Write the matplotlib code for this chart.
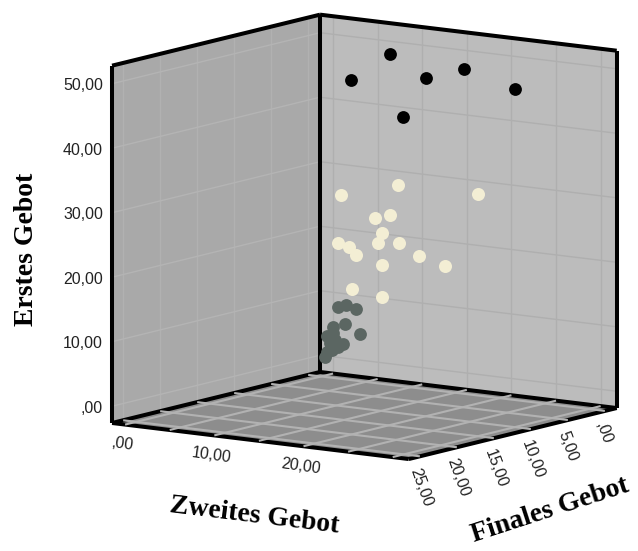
import numpy as np
import matplotlib
matplotlib.use("Agg")
import matplotlib.pyplot as plt
from matplotlib.patches import Polygon

# Data: (Zweites Gebot, Finales Gebot, Erstes Gebot)
high_zweites = [15.3, 10.3, 20.3, 20.4, 30.3, 20.7]
high_finales = [14.4, 3.1, 10.3, 5.3, 10.4, 13.85]
high_erstes = [50.0, 50.0, 50.0, 50.0, 50.0, 45.0]

mid_zweites = [4.71, 11.10, 21.73, 9.35, 11.86, 10.96, 10.52, 12.87, 3.54, 5.61, 6.39, 15.11, 18.03, 10.13, 5.94, 10.13]
mid_finales = [3, 3, 5, 4, 5, 5, 5, 5, 2, 3, 3, 5, 5, 4, 3, 4]
mid_erstes = [27.17, 29.8, 30.75, 24.67, 25.84, 22.89, 21.27, 21.66, 19.25, 19.26, 18.15, 20.03, 18.96, 17.51, 12.80, 12.55]

low_zweites = [2.71, 3.61, 4.73, 3.50, 5.18, 2.15, 2.15, 1.48, 1.82, 3.27, 2.71, 2.04, 1.26, 1.48, 2.38]
low_finales = [1] * 15
low_erstes = [8.91, 9.37, 8.94, 6.40, 5.13, 5.71, 4.78, 4.20, 3.17, 3.26, 2.70, 2.13, 0.91, 1.72, 3.73]

zweites_ticks = [0, 5, 10, 15, 20, 25, 30]
finales_ticks = [0, 5, 10, 15, 20, 25]
erstes_ticks = [0, 10, 20, 30, 40, 50]
zweites_labels = {0: ",00", 10: "10,00", 20: "20,00"}
finales_labels = [",00", "5,00", "10,00", "15,00", "20,00", "25,00"]
erstes_labels = [",00", "10,00", "20,00", "30,00", "40,00", "50,00"]

XR = (-1.46, 31.8)
YR = (-1.6, 26.5)
ZR = (-2.6, 52.8)


def proj(x, y, z):
    """Oblique projection of the 3D box to image pixels."""
    x, y, z = np.asarray(x, float), np.asarray(y, float), np.asarray(z, float)
    return (321.2 + 8.92 * x - 7.4 * y,
            359.7 + 1.084 * x + 1.815 * y - 6.45 * z)


fig = plt.figure(figsize=(6.38, 5.51), dpi=100, facecolor="white")
ax = fig.add_axes([0, 0, 1, 1])
ax.set_xlim(0, 638)
ax.set_ylim(551, 0)
ax.axis("off")


def poly(corners, color, z=1):
    pts = [tuple(float(c) for c in proj(*p)) for p in corners]
    ax.add_patch(Polygon(pts, closed=True, fc=color, ec="none", zorder=z))


def seg(a, b, color, lw, z):
    ua, va = proj(*a)
    ub, vb = proj(*b)
    ax.plot([ua, ub], [va, vb], color=color, lw=lw, zorder=z,
            solid_capstyle="butt")


x0, x1 = XR
y0, y1 = YR
z0, z1 = ZR

poly([(x0, y0, z0), (x0, y1, z0), (x0, y1, z1), (x0, y0, z1)], "#a9a9a9")
poly([(x0, y0, z0), (x1, y0, z0), (x1, y0, z1), (x0, y0, z1)], "#bcbcbc")
poly([(x0, y0, z0), (x1, y0, z0), (x1, y1, z0), (x0, y1, z0)], "#8d8d8d")

for t in zweites_ticks:
    seg((t, y0, z0), (t, y0, z1), "#afafaf", 1.0, 2)
    seg((t, y0, z0), (t, y1, z0), "#b2b2b2", 1.5, 4)
for t in finales_ticks:
    seg((x0, t, z0), (x0, t, z1), "#b1b1b1", 1.0, 2)
    seg((x0, t, z0), (x1, t, z0), "#b2b2b2", 1.5, 4)
for t in erstes_ticks:
    seg((x0, y0, t), (x1, y0, t), "#afafaf", 1.0, 2)
    seg((x0, y0, t), (x0, y1, t), "#b4b4b4", 1.0, 2)

edges = [
    ((x0, y0, z0), (x0, y0, z1)), ((x0, y1, z0), (x0, y1, z1)),
    ((x1, y0, z0), (x1, y0, z1)), ((x0, y1, z1), (x0, y0, z1)),
    ((x0, y0, z1), (x1, y0, z1)), ((x0, y0, z0), (x1, y0, z0)),
    ((x0, y0, z0), (x0, y1, z0)), ((x0, y1, z0), (x1, y1, z0)),
    ((x1, y0, z0), (x1, y1, z0)),
]
for a, b in edges:
    seg(a, b, "black", 2.9, 3)

for xs, ys, zs, col, size in [
    (high_zweites, high_finales, high_erstes, "#000000", 85),
    (mid_zweites, mid_finales, mid_erstes, "#f3eed4", 88),
    (low_zweites, low_finales, low_erstes, "#5b6662", 85),
]:
    u, v = proj(xs, ys, zs)
    ax.scatter(u, v, s=size, c=col, linewidths=0, zorder=6)

tick_font = dict(family="Liberation Sans", fontsize=11.5, color="#222222", zorder=7)
for t, lab in zip(erstes_ticks, erstes_labels):
    _, v = proj(x0, y1, t)
    ax.text(103, v + 2, lab, ha="right", va="center", **tick_font)
for t, lab in zweites_labels.items():
    u, v = proj(t, y1, z0)
    ax.text(u - 3, v + 20, lab, ha="center", va="center", rotation=-8,
            rotation_mode="anchor", **tick_font)
for t, lab in zip(finales_ticks, finales_labels):
    u, v = proj(x1, t, z0)
    ax.text(u - 5, v + 12, lab, ha="left", va="center", rotation=-70,
            rotation_mode="anchor", **tick_font)

title_font = dict(family="Liberation Serif", fontweight="bold", fontsize=20,
                  color="black", ha="center", va="center", zorder=7)
ax.text(27, 249, "Erstes Gebot", rotation=90, **title_font)
ax.text(254, 516, "Zweites Gebot", rotation=-7, **title_font)
ax.text(550, 510, "Finales Gebot", rotation=18, **title_font)

fig.savefig("out.png", dpi=100)
